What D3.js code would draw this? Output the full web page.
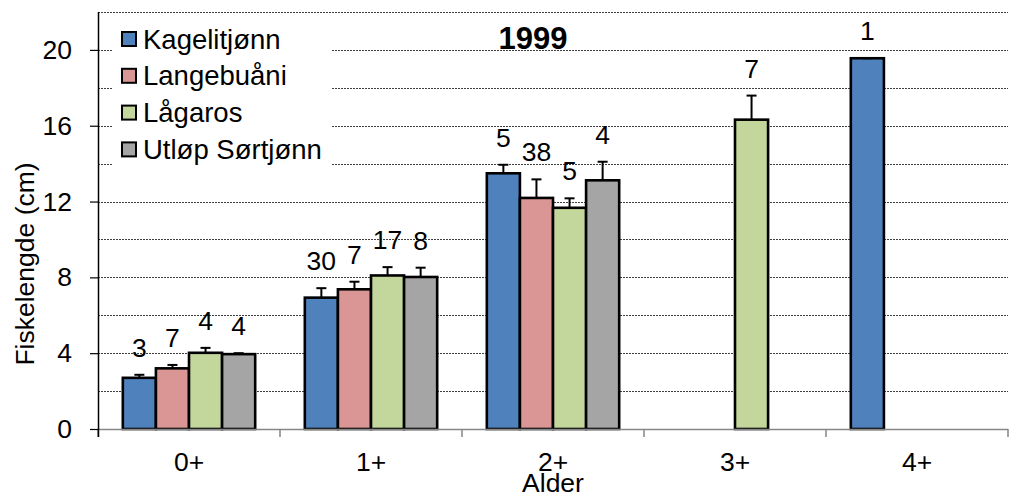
<!DOCTYPE html>
<html>
<head>
<meta charset="utf-8">
<script src="https://cdn.jsdelivr.net/npm/d3@7"></script>
<style>
  html, body { margin: 0; padding: 0; background: #fff; }
  svg { display: block; font-family: "Liberation Sans", Arial, sans-serif; }
</style>
</head>
<body>
<svg id="chart" width="1012" height="497"></svg>
<script>
// Fish length by age class, 1999
const ageClasses = ["0+", "1+", "2+", "3+", "4+"];
const seriesNames = ["Kagelitjønn", "Langebuåni", "Lågaros", "Utløp Sørtjønn"];
const seriesColors = ["#4F81BD", "#DA9694", "#C3D69B", "#A5A5A5"];

// mean length (cm)
const kagelitjonnMean = [2.7, 6.93, 13.49, null, 19.56];
const langebuaniMean  = [3.2, 7.37, 12.19, null, null];
const lagarosMean     = [4.02, 8.1, 11.67, 16.32, null];
const utlopMean       = [3.95, 8.02, 13.12, null, null];

// upper error (cm)
const kagelitjonnErr = [0.16, 0.5, 0.45, null, 0];
const langebuaniErr  = [0.18, 0.4, 0.98, null, null];
const lagarosErr     = [0.26, 0.44, 0.5, 1.27, null];
const utlopErr       = [0.05, 0.49, 0.98, null, null];

// number of fish
const kagelitjonnN = [3, 30, 5, null, 1];
const langebuaniN  = [7, 7, 38, null, null];
const lagarosN     = [4, 17, 5, 7, null];
const utlopN       = [4, 8, 4, null, null];

const yTicks = [0, 4, 8, 12, 16, 20];
const yGrid = [2, 4, 6, 8, 10, 12, 14, 16, 18, 20, 22];

const means = [kagelitjonnMean, langebuaniMean, lagarosMean, utlopMean];
const errs = [kagelitjonnErr, langebuaniErr, lagarosErr, utlopErr];
const counts = [kagelitjonnN, langebuaniN, lagarosN, utlopN];

const rows = [];
ageClasses.forEach((age, ci) => {
  seriesNames.forEach((name, si) => {
    if (means[si][ci] != null) {
      rows.push({ age, name, si, mean: means[si][ci], err: errs[si][ci] || 0, n: counts[si][ci] });
    }
  });
});

const svg = d3.select("#chart");
const plotL = 98, plotR = 1008, plotT = 12, plotB = 429;
const FONT = 26.5;

const x = d3.scaleBand().domain(ageClasses).range([plotL, plotR]).padding(0);
const gapFrac = 1.5 / (seriesNames.length + 1.5);
const xi = d3.scaleBand().domain(seriesNames)
  .range([x.bandwidth() * gapFrac / 2, x.bandwidth() * (1 - gapFrac / 2)]).padding(0);
const y = d3.scaleLinear().domain([0, 22]).range([plotB, plotT]);

// dotted gridlines
svg.append("g").selectAll("line").data(yGrid).join("line")
  .attr("x1", plotL).attr("x2", plotR)
  .attr("y1", d => Math.round(y(d)) + 0.5).attr("y2", d => Math.round(y(d)) + 0.5)
  .attr("stroke", "#404040").attr("stroke-width", 1).attr("stroke-dasharray", "2,1");

// bars
svg.append("g").selectAll("rect").data(rows).join("rect")
  .attr("x", d => x(d.age) + xi(d.name))
  .attr("width", xi.bandwidth())
  .attr("y", d => y(d.mean))
  .attr("height", d => y(0) - y(d.mean))
  .attr("fill", d => seriesColors[d.si])
  .attr("stroke", "#000").attr("stroke-width", 2.6);

// error bars (upper only)
const errG = svg.append("g").attr("stroke", "#000").attr("stroke-width", 2);
rows.forEach(d => {
  const cx = x(d.age) + xi(d.name) + xi.bandwidth() / 2;
  errG.append("line").attr("x1", cx).attr("x2", cx)
    .attr("y1", y(d.mean)).attr("y2", y(d.mean + d.err));
  errG.append("line").attr("x1", cx - 5).attr("x2", cx + 5)
    .attr("y1", y(d.mean + d.err)).attr("y2", y(d.mean + d.err));
});

// count labels
svg.append("g").selectAll("text").data(rows).join("text")
  .attr("x", d => x(d.age) + xi(d.name) + xi.bandwidth() / 2)
  .attr("y", d => y(d.mean + d.err) - 18)
  .attr("text-anchor", "middle")
  .attr("font-size", FONT).attr("fill", "#000")
  .text(d => d.n);

// x axis
const xAxis = svg.append("g").attr("transform", `translate(0,${plotB})`);
xAxis.append("line").attr("x1", plotL).attr("x2", plotR).attr("y1", 0.5).attr("y2", 0.5)
  .attr("stroke", "#868686").attr("stroke-width", 1.5);
const bounds = ageClasses.map(a => x(a)).concat([plotR]);
xAxis.selectAll("line.tick").data(bounds).join("line").attr("class", "tick")
  .attr("x1", d => d).attr("x2", d => d).attr("y1", 0).attr("y2", 8)
  .attr("stroke", "#868686").attr("stroke-width", 1.5);
xAxis.selectAll("text").data(ageClasses).join("text")
  .attr("x", d => x(d) + x.bandwidth() / 2).attr("y", 42)
  .attr("text-anchor", "middle").attr("font-size", FONT).text(d => d);

// y axis
const yAxis = svg.append("g").attr("transform", `translate(${plotL},0)`)
  .call(d3.axisLeft(y).tickValues(yTicks).tickSize(8).tickPadding(18).tickFormat(d3.format("d")));
yAxis.select(".domain").attr("stroke", "#000").attr("stroke-width", 1.5)
  .attr("d", `M0.5,${plotT}V${plotB + 8}`);
yAxis.selectAll(".tick line").attr("stroke", "#000").attr("stroke-width", 1.2);
yAxis.selectAll(".tick text").attr("font-size", FONT).attr("fill", "#000")
  .attr("font-family", "Liberation Sans, Arial, sans-serif");

// axis titles
svg.append("text").attr("x", (plotL + plotR) / 2).attr("y", 492)
  .attr("text-anchor", "middle").attr("font-size", FONT).text("Alder");
svg.append("text").attr("transform", "translate(34,264) rotate(-90)")
  .attr("text-anchor", "middle").attr("font-size", FONT).text("Fiskelengde (cm)");

// year heading
svg.append("text").attr("x", 533).attr("y", 49)
  .attr("text-anchor", "middle").attr("font-size", 31).attr("font-weight", "bold").text("1999");

// legend
const legend = svg.append("g");
legend.append("rect").attr("x", 113).attr("y", 15).attr("width", 219).attr("height", 160).attr("fill", "#fff");
const item = legend.selectAll("g.item").data(seriesNames).join("g").attr("class", "item")
  .attr("transform", (d, i) => `translate(122,${39 + i * 36.8})`);
item.append("rect").attr("x", 0).attr("y", -7).attr("width", 14).attr("height", 14)
  .attr("fill", (d, i) => seriesColors[i]).attr("stroke", "#000").attr("stroke-width", 2);
item.append("text").attr("x", 21).attr("y", 9.5).attr("font-size", 27.5).text(d => d);
</script>
</body>
</html>
